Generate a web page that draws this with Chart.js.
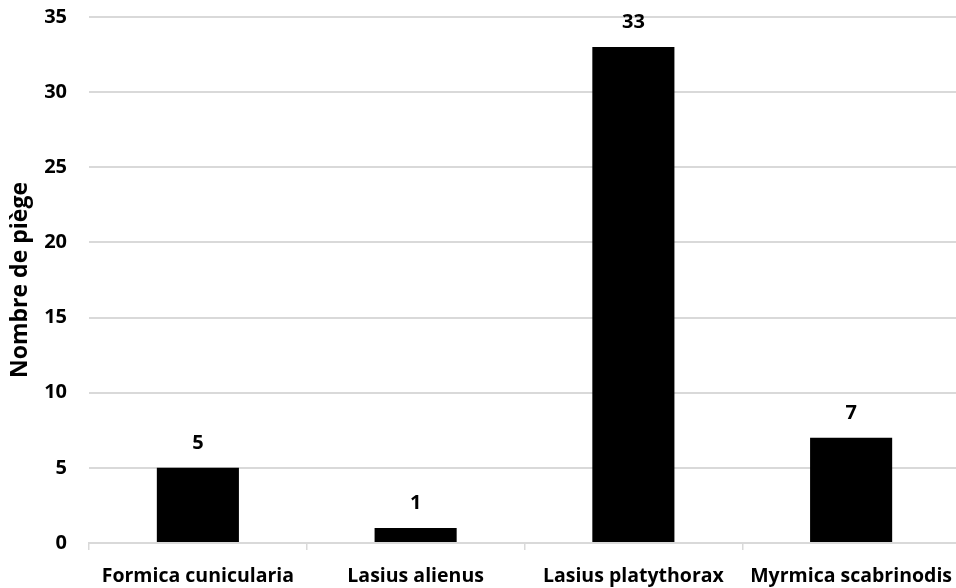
<!DOCTYPE html>
<html>
<head>
<meta charset="utf-8">
<script src="https://cdn.jsdelivr.net/npm/chart.js@4"></script>
<style>
  html, body { margin: 0; padding: 0; background: #fff; overflow: hidden; }
  #wrap { width: 960px; height: 588px; position: relative; }
</style>
</head>
<body>
<div id="wrap"><canvas id="c"></canvas></div>
<script>
const categories = ["Formica cunicularia", "Lasius alienus", "Lasius platythorax", "Myrmica scabrinodis"];
const values = [5, 1, 33, 7];
const yTitle = "Nombre de piège";
const yMax = 35;
const yStep = 5;

const FONT = "'Open Sans', sans-serif";

const labelPlugin = {
  id: 'barLabels',
  afterDatasetsDraw(chart) {
    const ctx = chart.ctx;
    const meta = chart.getDatasetMeta(0);
    ctx.save();
    ctx.font = "bold 20px " + FONT;
    ctx.fillStyle = "#000";
    ctx.textAlign = "center";
    ctx.textBaseline = "alphabetic";
    meta.data.forEach((bar, i) => {
      ctx.fillText(String(chart.data.datasets[0].data[i]), bar.x, bar.y - 19);
    });
    ctx.restore();
  }
};

new Chart(document.getElementById('c'), {
  type: 'bar',
  data: {
    labels: categories,
    datasets: [{
      data: values,
      backgroundColor: '#000',
      borderWidth: 0,
      barPercentage: 0.377,
      categoryPercentage: 1.0
    }]
  },
  options: {
    responsive: true,
    maintainAspectRatio: false,
    animation: false,
    layout: { padding: { top: 17, right: 0, left: 0, bottom: 0 } },
    plugins: { legend: { display: false }, tooltip: { enabled: false } },
    scales: {
      x: {
        grid: { display: true, offset: true, drawOnChartArea: false, color: '#d9d9d9', tickLength: 7, lineWidth: 1.5 },
        border: { display: true, color: '#d9d9d9', width: 2 },
        ticks: { color: '#000', font: { family: FONT, size: 19.5, weight: 'bold' }, padding: 15, maxRotation: 0, autoSkip: false },
        afterFit(scale) { scale.height = 45; scale.paddingLeft = 0; scale.paddingRight = 0; }
      },
      y: {
        min: 0, max: yMax,
        grid: { color: '#d9d9d9', lineWidth: 2, drawTicks: false },
        border: { display: false },
        ticks: { stepSize: yStep, color: '#000', font: { family: FONT, size: 20, weight: 'bold' }, padding: 22 },
        title: { display: true, text: yTitle, color: '#000', font: { family: FONT, size: 23, weight: 'bold' }, padding: { top: 7, bottom: 0 } },
        afterFit(scale) { scale.width = 89; scale.paddingTop = 0; scale.paddingBottom = 0; }
      }
    }
  },
  plugins: [labelPlugin]
});
</script>
</body>
</html>
